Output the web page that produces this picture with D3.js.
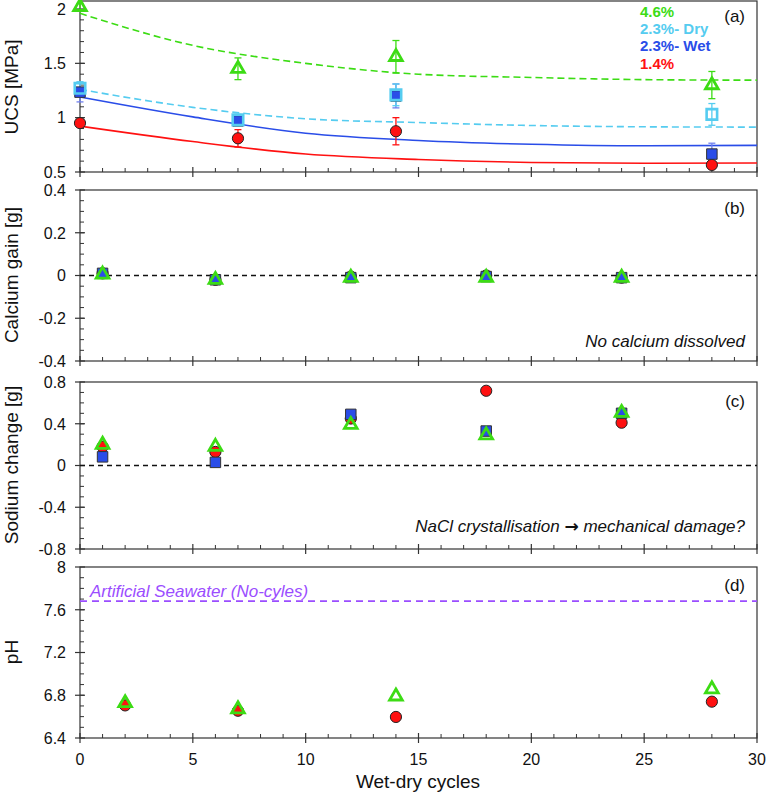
<!DOCTYPE html>
<html>
<head>
<meta charset="utf-8">
<script src="https://cdn.jsdelivr.net/npm/d3@7"></script>
<style>
  body { margin: 0; background: #fff; }
  text { font-family: "Liberation Sans", Arial, sans-serif; fill: #111; }
</style>
</head>
<body>
<script>
var width = 767, height = 796;

// colours
var cGreen = "#3cdc14", cCyan = "#55ccf0", cBlue = "#2a4de8", cRed = "#ff1111", cPurple = "#9b4dff";

// (a) UCS
var ucsX = [0, 7, 14, 28];
var ucsGreen = [2.02, 1.45, 1.56, 1.30];
var ucsGreenErr = [0.03, 0.10, 0.15, 0.125];
var ucsCyan = [1.27, 0.98, 1.21, 1.03];
var ucsCyanErr = [0.06, 0.05, 0.10, 0.10];
var ucsBlue = [1.235, 0.97, 1.20, 0.665];
var ucsBlueErr = [0.09, 0.04, 0.11, 0.10];
var ucsRed = [0.95, 0.81, 0.875, 0.565];
var ucsRedErr = [0.03, 0.08, 0.125, 0.03];

// trend lines
var fitX = [0, 5, 10, 15, 20, 25, 30];
var fitGreen = [1.96, 1.665, 1.50, 1.40, 1.37, 1.35, 1.345];
var fitCyan = [1.26, 1.095, 0.99, 0.955, 0.928, 0.916, 0.913];
var fitBlue = [1.19, 1.007, 0.857, 0.79, 0.755, 0.741, 0.745];
var fitRed = [0.922, 0.78, 0.665, 0.615, 0.588, 0.58, 0.583];

// (b) calcium gain
var caX = [1, 6, 12, 18, 24];
var caRed = [0.01, -0.02, -0.005, 0.0, -0.01];
var caBlue = [0.01, -0.02, -0.01, -0.005, -0.01];
var caGreen = [0.005, -0.02, -0.01, -0.01, -0.01];

// (c) sodium change
var naX = [1, 6, 12, 18, 24];
var naRed = [0.18, 0.13, 0.45, 0.716, 0.41];
var naBlue = [0.083, 0.03, 0.49, 0.33, 0.50];
var naGreen = [0.20, 0.18, 0.39, 0.29, 0.505];

// (d) pH
var phX = [2, 7, 14, 28];
var phRed = [6.705, 6.655, 6.597, 6.74];
var phGreen = [6.727, 6.67, 6.79, 6.857];
var seawaterPH = 7.68;

var ucsTicks = [0.5, 1, 1.5, 2];
var caTicks = [-0.4, -0.2, 0, 0.2, 0.4];
var naTicks = [-0.8, -0.4, 0, 0.4, 0.8];
var phTicks = [6.4, 6.8, 7.2, 7.6, 8];
var xTicks = [0, 5, 10, 15, 20, 25, 30];

var svg = d3.select("body").append("svg")
  .attr("width", width)
  .attr("height", height);

var x = d3.scaleLinear().domain([0, 30]).range([80, 757]);

function panel(opts) {
  var y = d3.scaleLinear().domain(opts.domain).range([opts.bottom, opts.yTop]);
  var g = svg.append("g");

  // frame
  g.append("rect")
    .attr("x", 80).attr("y", opts.frameTop)
    .attr("width", 677).attr("height", opts.bottom - opts.frameTop)
    .attr("fill", "none").attr("stroke", "#333").attr("stroke-width", 1.2);

  // x ticks
  d3.range(1, 30).forEach(function(v) {
    if (v % 5 === 0) return;
    g.append("line").attr("x1", x(v)).attr("x2", x(v))
      .attr("y1", opts.bottom).attr("y2", opts.bottom - 4)
      .attr("stroke", "#333");
  });
  xTicks.forEach(function(v) {
    g.append("line").attr("x1", x(v)).attr("x2", x(v))
      .attr("y1", opts.bottom + 5).attr("y2", opts.bottom - 5)
      .attr("stroke", "#333").attr("stroke-width", 1.2);
  });

  // y ticks
  var d0 = opts.domain[0], d1 = opts.domain[1];
  var nMinor = Math.round((d1 - d0) / opts.minor);
  for (var i = 1; i < nMinor; i++) {
    var v = d0 + i * opts.minor;
    g.append("line").attr("x1", 80).attr("x2", 84)
      .attr("y1", y(v)).attr("y2", y(v)).attr("stroke", "#333");
  }
  opts.ticks.forEach(function(v) {
    g.append("line").attr("x1", 75).attr("x2", 85)
      .attr("y1", y(v)).attr("y2", y(v))
      .attr("stroke", "#333").attr("stroke-width", 1.2);
    g.append("text").attr("x", 66).attr("y", y(v)).attr("dy", "0.36em")
      .attr("text-anchor", "end").attr("font-size", 16)
      .text(String(+v.toFixed(2)));
  });

  // y title
  g.append("text")
    .attr("transform", "translate(18," + opts.titleY + ") rotate(-90)")
    .attr("text-anchor", "middle").attr("font-size", 19)
    .text(opts.title);

  // panel letter
  g.append("text").attr("x", 745).attr("y", opts.letterY)
    .attr("text-anchor", "end").attr("font-size", 17)
    .text(opts.letter);

  return { g: g, y: y };
}

function errorBars(g, y, xs, vals, errs, color) {
  xs.forEach(function(xv, i) {
    var top = y(vals[i] + errs[i]), bot = y(vals[i] - errs[i]), cx = x(xv);
    g.append("line").attr("x1", cx).attr("x2", cx).attr("y1", top).attr("y2", bot)
      .attr("stroke", color).attr("stroke-width", 1.3);
    [top, bot].forEach(function(yy) {
      g.append("line").attr("x1", cx - 3.5).attr("x2", cx + 3.5).attr("y1", yy).attr("y2", yy)
        .attr("stroke", color).attr("stroke-width", 1.3);
    });
  });
}

function circles(g, y, xs, vals) {
  g.selectAll(null).data(xs).enter().append("circle")
    .attr("cx", function(d) { return x(d); })
    .attr("cy", function(d, i) { return y(vals[i]); })
    .attr("r", 5.6)
    .attr("fill", cRed).attr("stroke", "#222").attr("stroke-width", 1);
}

function squares(g, y, xs, vals, fill, stroke, sw, size) {
  g.selectAll(null).data(xs).enter().append("path")
    .attr("d", d3.symbol(d3.symbolSquare, size))
    .attr("transform", function(d, i) { return "translate(" + x(d) + "," + y(vals[i]) + ")"; })
    .attr("fill", fill).attr("stroke", stroke).attr("stroke-width", sw);
}

function triangles(g, y, xs, vals) {
  g.selectAll(null).data(xs).enter().append("path")
    .attr("d", d3.symbol(d3.symbolTriangle, 70))
    .attr("transform", function(d, i) { return "translate(" + x(d) + "," + y(vals[i]) + ")"; })
    .attr("fill", "none").attr("stroke", cGreen).attr("stroke-width", 2.8);
}

function fitLine(g, y, vals, color, dash) {
  var line = d3.line()
    .x(function(d) { return x(d); })
    .y(function(d, i) { return y(vals[i]); })
    .curve(d3.curveMonotoneX);
  g.append("path").datum(fitX).attr("d", line)
    .attr("fill", "none").attr("stroke", color).attr("stroke-width", 1.6)
    .attr("stroke-dasharray", dash);
}

// ----- (a)
var pa = panel({ domain: [0.5, 2], bottom: 172, yTop: 9, frameTop: 1, minor: 0.1,
  ticks: ucsTicks, title: "UCS [MPa]", titleY: 87, letter: "(a)", letterY: 22 });
fitLine(pa.g, pa.y, fitGreen, cGreen, "7,4");
fitLine(pa.g, pa.y, fitCyan, cCyan, "7,4");
fitLine(pa.g, pa.y, fitBlue, cBlue, null);
fitLine(pa.g, pa.y, fitRed, cRed, null);
errorBars(pa.g, pa.y, ucsX, ucsRed, ucsRedErr, cRed);
errorBars(pa.g, pa.y, ucsX, ucsBlue, ucsBlueErr, "#7080ee");
errorBars(pa.g, pa.y, ucsX, ucsCyan, ucsCyanErr, cCyan);
errorBars(pa.g, pa.y, ucsX, ucsGreen, ucsGreenErr, cGreen);
circles(pa.g, pa.y, ucsX, ucsRed);
squares(pa.g, pa.y, ucsX, ucsBlue, cBlue, "#333", 1, 110);
squares(pa.g, pa.y, ucsX, ucsCyan, "none", cCyan, 2.6, 110);
triangles(pa.g, pa.y, ucsX, ucsGreen);

var legendItems = ["4.6%", "2.3%- Dry", "2.3%- Wet", "1.4%"];
var legendColors = [cGreen, cCyan, cBlue, cRed];
legendItems.forEach(function(t, i) {
  pa.g.append("text").attr("x", 640).attr("y", 17 + i * 17.2)
    .attr("font-size", 15).attr("font-weight", "bold")
    .style("fill", legendColors[i]).text(t);
});

// ----- (b)
var pb = panel({ domain: [-0.4, 0.4], bottom: 361, yTop: 190, frameTop: 190, minor: 0.05,
  ticks: caTicks, title: "Calcium gain [g]", titleY: 275, letter: "(b)", letterY: 214 });
pb.g.append("line").attr("x1", 80).attr("x2", 757).attr("y1", pb.y(0)).attr("y2", pb.y(0))
  .attr("stroke", "#111").attr("stroke-width", 1.5).attr("stroke-dasharray", "5,4");
circles(pb.g, pb.y, caX, caRed);
squares(pb.g, pb.y, caX, caBlue, cBlue, "#333", 1, 110);
triangles(pb.g, pb.y, caX, caGreen);
pb.g.append("text").attr("x", 745).attr("y", 347).attr("text-anchor", "end")
  .attr("font-size", 17).attr("font-style", "italic").text("No calcium dissolved");

// ----- (c)
var pc = panel({ domain: [-0.8, 0.8], bottom: 549, yTop: 382, frameTop: 382, minor: 0.1,
  ticks: naTicks, title: "Sodium change [g]", titleY: 465, letter: "(c)", letterY: 407 });
pc.g.append("line").attr("x1", 80).attr("x2", 757).attr("y1", pc.y(0)).attr("y2", pc.y(0))
  .attr("stroke", "#111").attr("stroke-width", 1.5).attr("stroke-dasharray", "5,4");
circles(pc.g, pc.y, naX, naRed);
squares(pc.g, pc.y, naX, naBlue, cBlue, "#333", 1, 110);
triangles(pc.g, pc.y, naX, naGreen);
var naNote = pc.g.append("text").attr("x", 745).attr("y", 532).attr("text-anchor", "end")
  .attr("font-size", 17).attr("font-style", "italic");
naNote.append("tspan").text("NaCl crystallisation ");
naNote.append("tspan").style("font-family", "'DejaVu Sans'").attr("font-style", "normal")
  .attr("font-weight", "bold").text("\u2192");
naNote.append("tspan").text(" mechanical damage?");

// ----- (d)
var pd = panel({ domain: [6.4, 8], bottom: 738, yTop: 567, frameTop: 567, minor: 0.1,
  ticks: phTicks, title: "pH", titleY: 652, letter: "(d)", letterY: 591 });
pd.g.append("line").attr("x1", 80).attr("x2", 757).attr("y1", pd.y(seawaterPH)).attr("y2", pd.y(seawaterPH))
  .attr("stroke", cPurple).attr("stroke-width", 1.8).attr("stroke-dasharray", "7,5");
pd.g.append("text").attr("x", 90).attr("y", pd.y(seawaterPH) - 4.5)
  .attr("font-size", 17).attr("font-style", "italic")
  .style("fill", cPurple).text("Artificial Seawater (No-cyles)");
circles(pd.g, pd.y, phX, phRed);
triangles(pd.g, pd.y, phX, phGreen);

// x tick labels + title
xTicks.forEach(function(v) {
  svg.append("text").attr("x", x(v)).attr("y", 765).attr("text-anchor", "middle")
    .attr("font-size", 16).text(v);
});
svg.append("text").attr("x", 418).attr("y", 788).attr("text-anchor", "middle")
  .attr("font-size", 19).text("Wet-dry cycles");
</script>
</body>
</html>
